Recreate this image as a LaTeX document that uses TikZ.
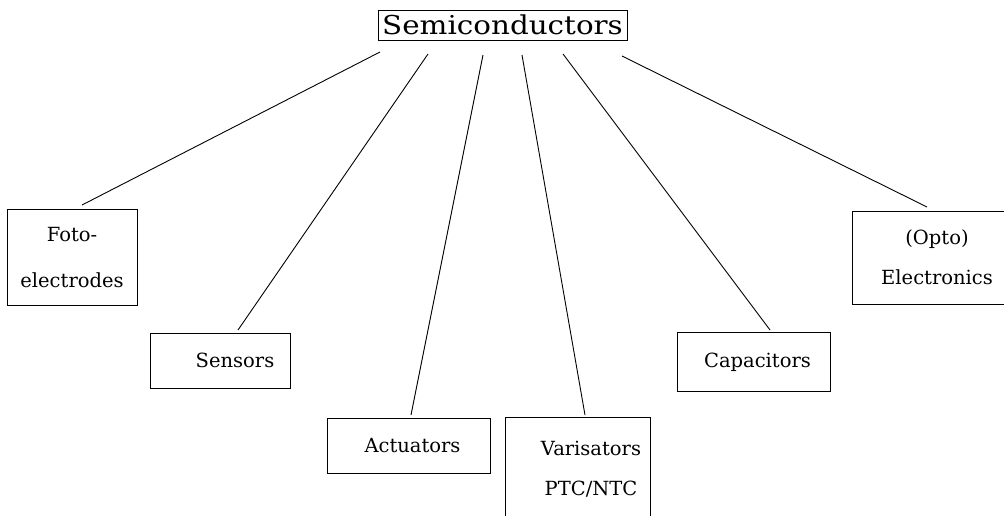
\documentclass[tikz,border=0pt]{standalone}
\usepackage{fontspec}
\newfontfamily\lbl{DejaVu Serif}
\usepackage{tikz}
\begin{document}
\begin{tikzpicture}[x=1pt,y=-1pt,
  box/.style={draw,line width=0.9pt,inner sep=0pt,align=center,font=\lbl\fontsize{19.5}{40}\selectfont},
  conn/.style={line width=0.9pt}]
\useasboundingbox (0,0) rectangle (1004,515);
% top
\node[draw,line width=0.9pt,inner sep=0pt,minimum width=249pt,minimum height=30pt,font=\lbl\fontsize{26}{28}\selectfont] (top) at (502.5,25) {\scalebox{1.13}[1]{Semiconductors}};
% boxes
\node[box,minimum width=130pt,minimum height=96pt,font=\lbl\fontsize{19.5}{46}\selectfont] (foto) at (72,257.5) {Foto-\\electrodes};
\node[box,minimum width=140pt,minimum height=55pt] (sens) at (220,360.5) {\hspace*{30pt}Sensors};
\node[box,minimum width=163pt,minimum height=55pt] (act) at (408.5,445.5) {\hspace*{8pt}Actuators};
\node[box,minimum width=145pt,minimum height=130pt,anchor=north] (var) at (577.5,417) {};
\node[font=\lbl\fontsize{19.5}{40}\selectfont,align=center] (vartext) at (591,469) {Varisators\\PTC/NTC};
\node[box,minimum width=153pt,minimum height=59pt] (cap) at (753.5,362) {\hspace*{8pt}Capacitors};
\node[box,minimum width=152pt,minimum height=93pt] (opto) at (928,257.5) {\hspace*{18pt}(Opto)\\\hspace*{18pt}Electronics};
% endpoints
\coordinate (t1) at (380,52);
\coordinate (t2) at (428,54);
\coordinate (t3) at (483,55);
\coordinate (t4) at (522,55);
\coordinate (t5) at (563,54);
\coordinate (t6) at (622,56);
\coordinate (e1) at (82,205);
\coordinate (e2) at (238,330);
\coordinate (e3) at (411,415);
\coordinate (e4) at (585,415);
\coordinate (e5) at (770,330);
\coordinate (e6) at (927,207);
\draw[conn] (t1) -- (e1);
\draw[conn] (t2) -- (e2);
\draw[conn] (t3) -- (e3);
\draw[conn] (t4) -- (e4);
\draw[conn] (t5) -- (e5);
\draw[conn] (t6) -- (e6);
\end{tikzpicture}
\end{document}
